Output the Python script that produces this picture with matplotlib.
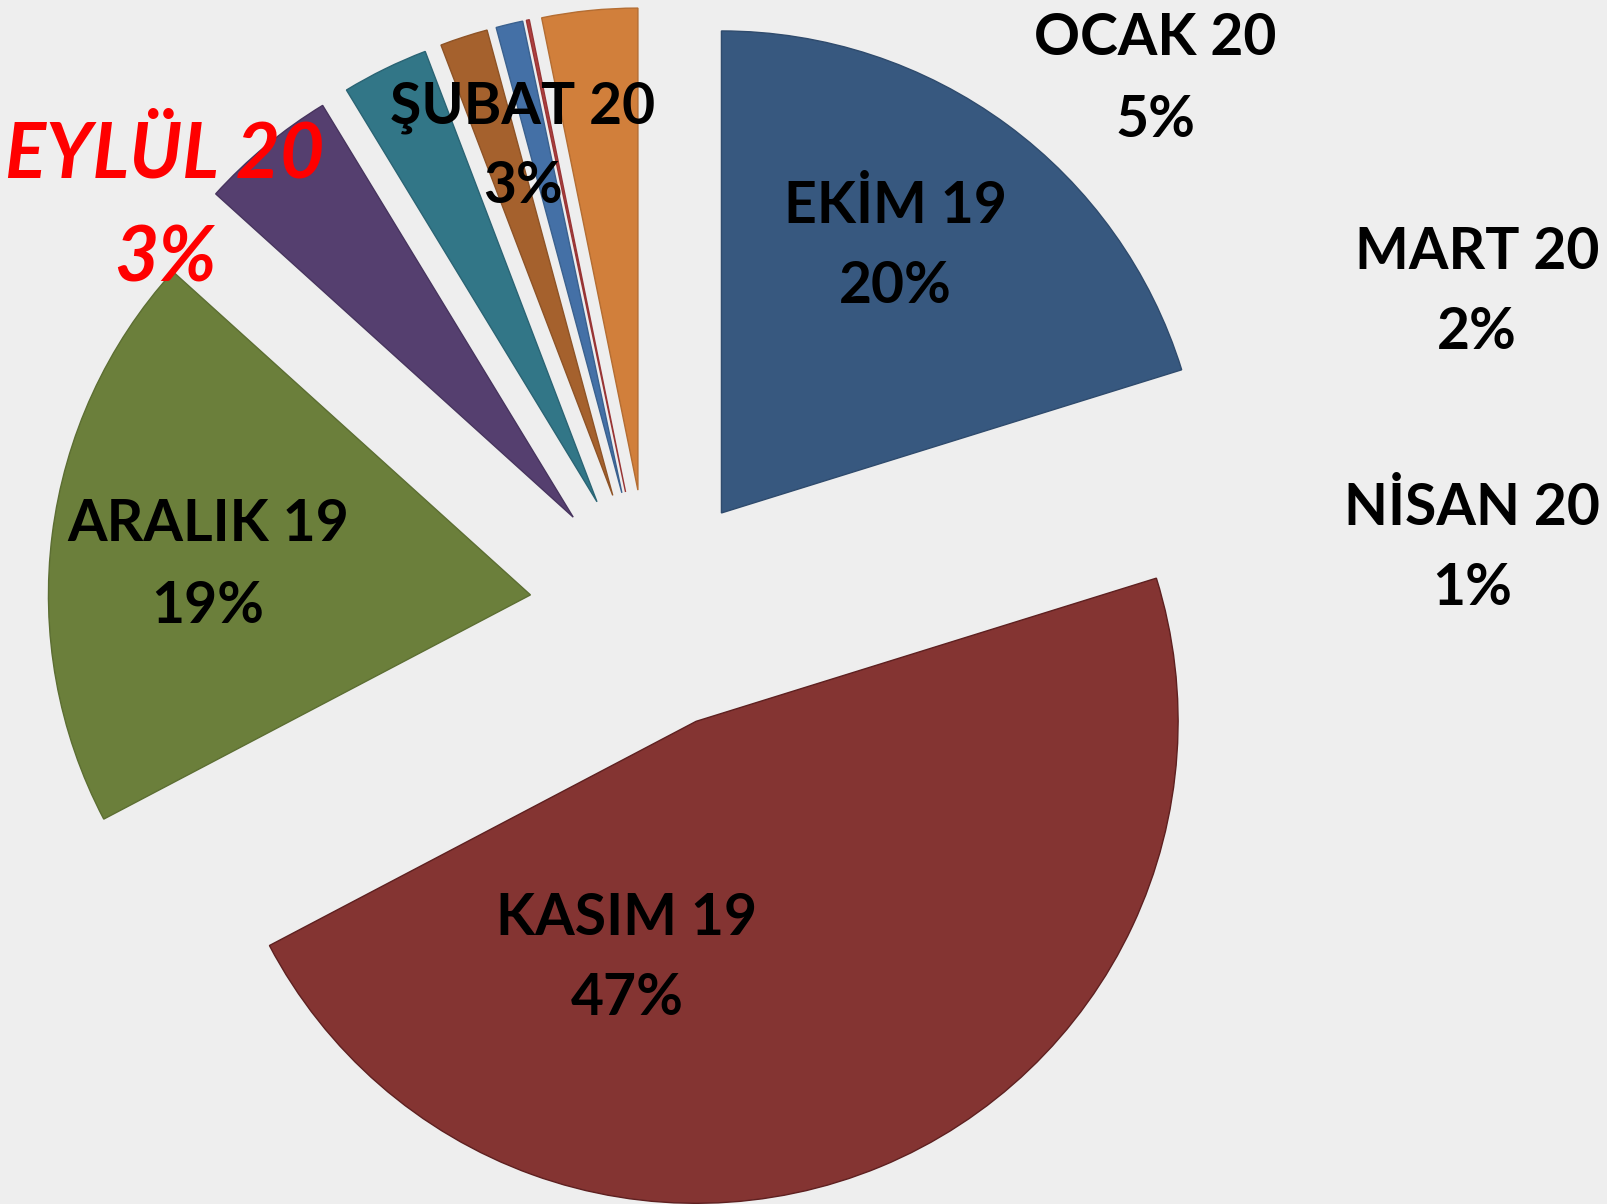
import matplotlib
matplotlib.use("Agg")
import matplotlib.pyplot as plt

# ---- data ----
months = ["EKİM 19", "KASIM 19", "ARALIK 19", "OCAK 20", "ŞUBAT 20",
          "MART 20", "NİSAN 20", "MAYIS 20", "EYLÜL 20"]
shares = [20.2, 47.1, 19.4, 4.6, 2.9, 1.6, 0.9, 0.1, 3.2]
pct_labels = ["20%", "47%", "19%", "5%", "3%", "2%", "1%", "", "3%"]
colors = ["#37587F", "#843432", "#6B7F3B", "#553F6F", "#327687",
          "#A5612D", "#4470A6", "#B04040", "#D17F3B"]
edge_colors = ["#2F4B6D", "#5E2020", "#5C6E32", "#47345E", "#2A6474",
               "#8E5326", "#3A618F", "#983535", "#B46D32"]

# ---- layout (pixels, from top-left) ----
W, H = 1608, 1204
CX, CY, R = 650, 610, 482
explode = [0.25] * len(shares)
# label anchor: (x center, baseline line1, baseline line2)
label_pos = {
    "EKİM 19": (895, 223, 303),
    "KASIM 19": (627, 935, 1015),
    "ARALIK 19": (208, 541, 623),
    "OCAK 20": (1155, 55, 137),
    "ŞUBAT 20": (523, 123, 203),
    "MART 20": (1477, 269, 349),
    "NİSAN 20": (1472, 525, 605),
}
red_label = ("EYLÜL 20", 165, 178, 282)

fig = plt.figure(figsize=(W / 100, H / 100), dpi=100)
fig.patch.set_facecolor("#EEEEEE")
ax = fig.add_axes([0, 0, 1, 1])
ax.set_facecolor("#EEEEEE")

wedges, _ = ax.pie(shares, colors=colors, startangle=90, counterclock=False,
                   explode=explode, radius=1.0,
                   wedgeprops=dict(linewidth=1.0))
for w, ec in zip(wedges, edge_colors):
    w.set_edgecolor(ec)

ax.set_xlim(-CX / R, (W - CX) / R)
ax.set_ylim(-(H - CY) / R, CY / R)
ax.set_aspect("auto")
ax.set_axis_off()

font = "Lato"
pct_of = dict(zip(months, pct_labels))
for name, (x, y1, y2) in label_pos.items():
    fig.text(x / W, 1 - y1 / H, name, ha="center", va="baseline",
             fontsize=41, fontweight="bold", family=font, color="black")
    fig.text(x / W, 1 - y2 / H, pct_of[name], ha="center", va="baseline",
             fontsize=41, fontweight="bold", family=font, color="black")

name, x, y1, y2 = red_label
fig.text(x / W, 1 - y1 / H, name, ha="center", va="baseline",
         fontsize=55, fontweight="bold", style="italic", family=font, color="#FF0000")
fig.text(x / W, 1 - y2 / H, pct_of[name], ha="center", va="baseline",
         fontsize=55, fontweight="bold", style="italic", family=font, color="#FF0000")

fig.savefig("out.png", dpi=100, facecolor=fig.get_facecolor())
